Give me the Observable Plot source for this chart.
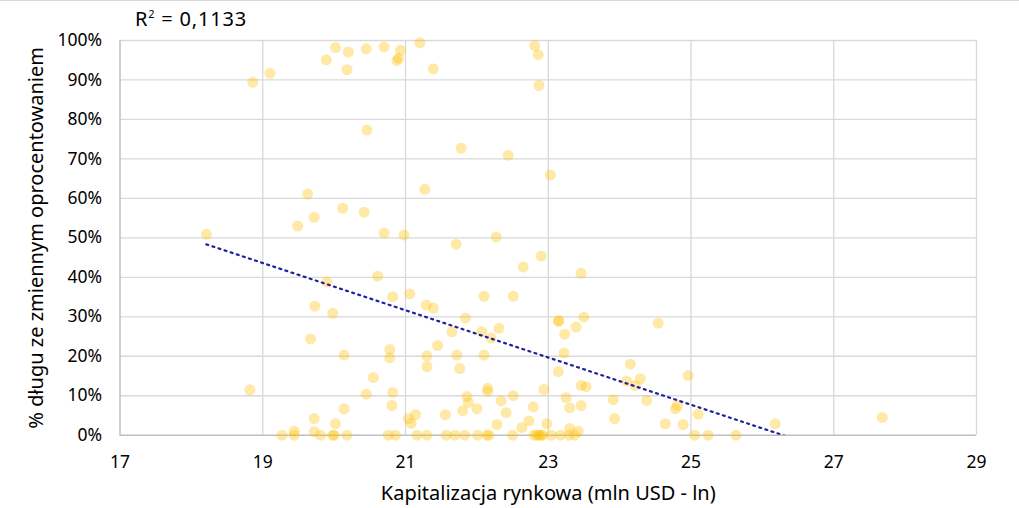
<!DOCTYPE html>
<html>
<head>
<meta charset="utf-8">
<script src="https://cdn.jsdelivr.net/npm/d3@7"></script>
<script src="https://cdn.jsdelivr.net/npm/@observablehq/plot@0.6"></script>
<style>
  body { margin: 0; background: #fff; }
  #wrap { position: relative; width: 1019px; height: 508px; border-top: 1px solid #d9d9d9; box-sizing: border-box; overflow: hidden; }
  #r2 { position: absolute; left: 135px; top: 4px; font-family: "Noto Sans", sans-serif; font-size: 20px; letter-spacing: 0.8px; color: #000; white-space: nowrap; }
  #r2 sup { font-size: 11px; vertical-align: 8px; line-height: 0; }
  #chart { position: absolute; left: 0; top: -1px; }
</style>
</head>
<body>
<div id="wrap">
  <div id="chart"></div>
  <div id="r2">R<sup>2</sup> = 0,1133</div>
</div>
<script>
// Market capitalisation (ln of mln USD)
const capLn = [
  18.86, 19.10, 19.89, 20.02, 20.20, 20.18, 20.45, 20.70, 20.93, 20.88, 20.90, 21.20, 21.39,
  22.81, 22.86, 22.87, 20.46, 21.78, 22.44, 23.03, 19.63, 21.27, 20.12, 19.72, 20.42, 19.49,
  18.21, 20.70, 20.98, 21.71, 22.27, 22.90, 22.65, 20.61, 19.90, 20.82, 21.06, 19.73, 19.98,
  21.29, 21.39, 22.10, 22.51, 21.84, 22.31, 22.07, 21.65, 22.20, 19.67, 21.45, 20.78, 20.78,
  20.14, 21.30, 21.72, 22.10, 21.30, 21.76, 20.55, 18.82, 22.15, 22.15, 22.94, 22.51, 20.82,
  20.45, 21.86, 21.88, 22.34, 21.80, 22.00, 22.41, 22.79, 20.14, 20.81, 21.14, 21.56, 21.04,
  21.08, 19.72, 20.02, 22.28, 22.63, 22.73, 22.98, 19.44, 19.72,
  23.46, 23.14, 23.15, 23.50, 23.39, 23.23, 24.54, 23.22, 24.15, 23.14, 24.96, 24.29, 24.10,
  24.22, 23.46, 23.53, 23.25, 23.91, 24.38, 23.46, 23.30, 24.78, 24.81, 23.93, 24.64, 24.89,
  25.10, 26.18, 27.68, 23.30, 23.42,
  19.27, 19.44, 19.81, 19.98, 20.00, 20.18, 20.76, 20.86, 21.16, 21.30, 21.57, 21.69, 21.83,
  22.01, 22.14, 22.17, 22.50, 22.80, 22.84, 22.87, 22.90, 22.92, 23.04, 23.17, 23.29, 23.37,
  25.05, 25.24, 25.63
];
// Share of floating-rate debt (%)
const floatPct = [
  89.4, 91.7, 95.1, 98.2, 97.1, 92.6, 97.9, 98.4, 97.5, 94.9, 95.5, 99.4, 92.8,
  98.7, 96.4, 88.6, 77.3, 72.7, 70.9, 65.9, 61.1, 62.3, 57.5, 55.2, 56.5, 53.0,
  50.9, 51.2, 50.7, 48.4, 50.2, 45.4, 42.6, 40.3, 38.8, 35.1, 35.8, 32.7, 30.9,
  33.0, 32.2, 35.2, 35.2, 29.7, 27.1, 26.2, 26.2, 24.6, 24.4, 22.7, 21.7, 19.6,
  20.3, 20.1, 20.3, 20.3, 17.4, 16.9, 14.6, 11.5, 11.9, 11.1, 11.6, 10.0, 10.8,
  10.4, 9.8, 8.3, 8.7, 6.2, 6.7, 5.7, 7.2, 6.7, 7.5, 5.2, 5.2, 4.2,
  3.0, 4.2, 2.9, 2.7, 1.9, 3.6, 2.9, 1.0, 0.9,
  41.0, 28.9, 29.0, 29.9, 27.4, 25.6, 28.4, 20.8, 18.0, 16.1, 15.1, 14.3, 13.7,
  12.6, 12.6, 12.3, 9.5, 9.0, 8.8, 7.5, 6.9, 6.7, 7.5, 4.2, 2.9, 2.7,
  5.3, 2.9, 4.5, 1.7, 1.0,
  0, 0, 0, 0, 0, 0, 0, 0, 0, 0, 0, 0, 0,
  0, 0, 0, 0, 0, 0, 0, 0, 0, 0, 0, 0, 0,
  0, 0, 0
];
const xTicks = [17, 19, 21, 23, 25, 27, 29];
const yTicks = [0, 10, 20, 30, 40, 50, 60, 70, 80, 90, 100];

const data = capLn.map((x, i) => ({x, y: floatPct[i]}));

const font = "Noto Sans, sans-serif";
const chart = Plot.plot({
  width: 1019,
  height: 508,
  marginLeft: 119.5,
  marginRight: 43,
  marginTop: 40,
  marginBottom: 73.3,
  style: {fontFamily: font, fontSize: "17.5px", color: "#000", background: "transparent"},
  x: {domain: [17, 29]},
  y: {domain: [0, 100]},
  marks: [
    Plot.gridX(xTicks.slice(1), {stroke: "#d9d9d9", strokeOpacity: 1, strokeWidth: 1.3}),
    Plot.gridY(yTicks.slice(1), {stroke: "#d9d9d9", strokeOpacity: 1, strokeWidth: 1.3}),
    Plot.ruleY([0], {stroke: "#bfbfbf", strokeWidth: 1.5}),
    Plot.ruleX([17], {stroke: "#bfbfbf", strokeWidth: 1.5}),
    Plot.axisX({ticks: xTicks, tickSize: 0, tickPadding: 20, fontSize: 17.5, label: null}),
    Plot.axisX({ticks: [], tickSize: 0, fontSize: 20,
      label: "Kapitalizacja rynkowa (mln USD - ln)", labelAnchor: "center", labelArrow: "none", labelOffset: 65}),
    Plot.axisY({ticks: yTicks, tickSize: 0, tickPadding: 18, fontSize: 17.5,
      tickFormat: d => d + "%", label: null}),
    Plot.axisY({ticks: [], tickSize: 0, fontSize: 20,
      label: "% długu ze zmiennym oprocentowaniem", labelAnchor: "center", labelArrow: "none", labelOffset: 91}),
    Plot.dot(data, {x: "x", y: "y", r: 5.5, fill: "#FFC000", fillOpacity: 0.35, stroke: "none"}),
    Plot.linearRegressionY(data, {x: "x", y: "y", ci: 0, stroke: "#2020a0", strokeWidth: 2.2,
      strokeDasharray: "2 4.4", clip: true})
  ]
});
document.getElementById("chart").appendChild(chart);
</script>
</body>
</html>
